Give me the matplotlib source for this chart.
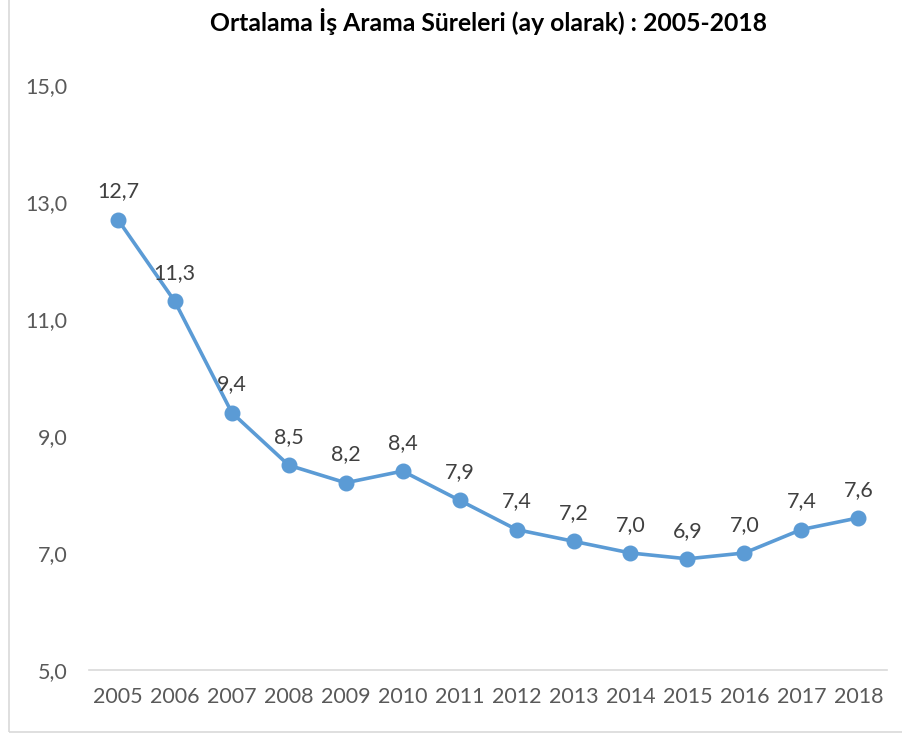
import matplotlib.pyplot as plt
from matplotlib.patches import Rectangle
from matplotlib.ticker import FuncFormatter

years = ["2005", "2006", "2007", "2008", "2009", "2010", "2011",
         "2012", "2013", "2014", "2015", "2016", "2017", "2018"]
durations = [12.7, 11.3, 9.4, 8.5, 8.2, 8.4, 7.9,
             7.4, 7.2, 7.0, 6.9, 7.0, 7.4, 7.6]
y_ticks = [5, 7, 9, 11, 13, 15]
title = "Ortalama İş Arama Süreleri (ay olarak) : 2005-2018"

plt.rcParams["font.family"] = ["Lato", "DejaVu Sans"]

fig = plt.figure(figsize=(9.03, 7.33), dpi=100)
ax = fig.add_axes([0.099, 0.086, 0.883, 0.798])

xs = list(range(len(years)))
ax.plot(xs, durations, color="#5B9BD5", lw=2.6, marker="o",
        markersize=10.5, solid_capstyle="round", zorder=3)

for x, v in zip(xs, durations):
  ax.annotate(f"{v:.1f}".replace(".", ","), (x, v), xytext=(0, 16),
              textcoords="offset points", ha="center", va="baseline",
              fontsize=15.5, color="#404040")

ax.set_xlim(-0.5, len(years) - 0.5)
ax.set_ylim(5, 15)
ax.set_xticks(xs)
ax.set_xticklabels(years)
ax.set_yticks(y_ticks)
ax.yaxis.set_major_formatter(FuncFormatter(lambda v, p: f"{v:.1f}".replace(".", ",")))
ax.tick_params(length=0, labelsize=15.5, labelcolor="#595959")
ax.tick_params(axis="y", pad=16)
ax.tick_params(axis="x", pad=12)

for side in ["top", "right", "left"]:
  ax.spines[side].set_visible(False)
ax.spines["bottom"].set_color("#D9D9D9")
ax.spines["bottom"].set_linewidth(1.2)

ax.set_title(title, fontsize=17.8, fontweight="bold", color="#000000", pad=39)

# chart frame
fig.patches.append(Rectangle((8.5 / 903, 1.5 / 733), 1.0, 1.0, transform=fig.transFigure,
                             fill=False, edgecolor="#D9D9D9", lw=1.2))

fig.savefig("out.png", dpi=100)
